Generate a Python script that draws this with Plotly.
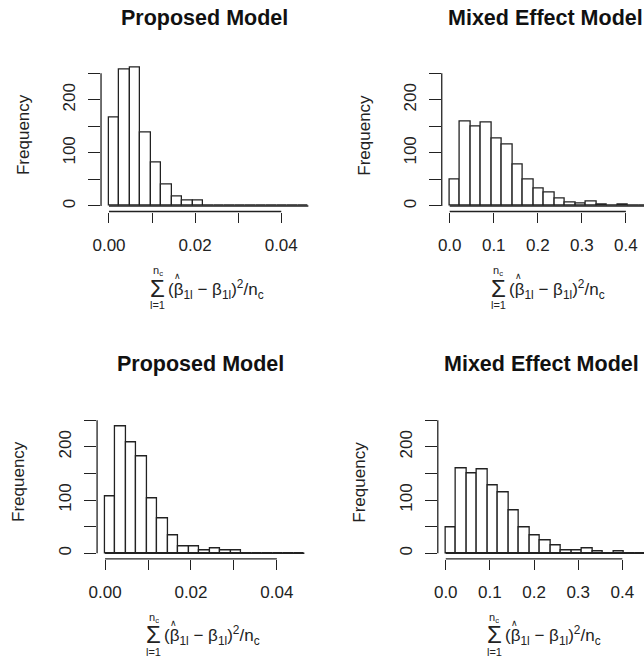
import plotly.graph_objects as go
import numpy as np

# ---------------- data ----------------
titles = ["Proposed Model", "Mixed Effect Model", "Proposed Model", "Mixed Effect Model"]

counts_tl = [166, 258, 261, 139, 82, 41, 17, 11, 11, 0, 0, 0, 0, 0, 0, 0, 0, 0, 0]
counts_tr = [49, 160, 150, 158, 127, 115, 79, 49, 33, 25, 14, 6, 5, 9, 3, 0, 3, 0, 0]
counts_bl = [106, 239, 209, 182, 103, 66, 33, 12, 12, 6, 9, 6, 6, 0, 0, 0, 0, 0, 0]
counts_br = [49, 160, 150, 158, 128, 115, 80, 49, 33, 24, 14, 6, 6, 9, 3, 0, 3, 0, 0]

break_max = [0.0463, 0.452, 0.0464, 0.451]

# labelled (major) and unlabelled (minor) ticks
xtick_vals_small = [0.0, 0.02, 0.04]
xtick_text_small = ["0.00", "0.02", "0.04"]
xminor_small = [0.01, 0.03]
xtick_vals_large = [0.0, 0.1, 0.2, 0.3, 0.4]
xtick_text_large = ["0.0", "0.1", "0.2", "0.3", "0.4"]
xminor_large = []
ytick_vals = [0, 100, 200]
ytick_text = ["0", "100", "200"]
yminor = [50, 150, 250]
y_lim = [0, 260]

counts_all = [counts_tl, counts_tr, counts_bl, counts_br]
xticks = [(xtick_vals_small, xtick_text_small, xminor_small),
          (xtick_vals_large, xtick_text_large, xminor_large),
          (xtick_vals_small, xtick_text_small, xminor_small),
          (xtick_vals_large, xtick_text_large, xminor_large)]

# ---------------- layout (pixels) ----------------
W, H = 644, 661
FONT = "Liberation Sans, Arial, sans-serif"
INK = "#222"
panel_px = [
    dict(left=94.2, scale=4360, top=62.5, bottom=211.5),
    dict(left=439.2, scale=446, top=62.5, bottom=211.5),
    dict(left=90.2, scale=4350, top=409.4, bottom=558.8),
    dict(left=435.2, scale=447, top=409.4, bottom=558.8),
]

def px_x(p):
    return p / W

def px_y(p):
    return 1 - p / H

fig = go.Figure()
annotations = []
shapes = []
layout_axes = {}

for i in range(4):
    counts = counts_all[i]
    bmax = break_max[i]
    nb = len(counts)
    edges = np.linspace(0, bmax, nb + 1)
    centers = (edges[:-1] + edges[1:]) / 2
    width = edges[1] - edges[0]
    pp = panel_px[i]
    x0 = -0.04 * bmax
    full_right = pp["left"] + 1.08 * bmax * pp["scale"]
    right_px = min(full_right, W)
    x1 = x0 + (right_px - pp["left"]) / pp["scale"]
    xa = "x" if i == 0 else f"x{i+1}"
    ya = "y" if i == 0 else f"y{i+1}"
    xname = "xaxis" if i == 0 else f"xaxis{i+1}"
    yname = "yaxis" if i == 0 else f"yaxis{i+1}"

    fig.add_trace(go.Bar(x=centers, y=counts, width=[width] * nb,
                         marker=dict(color="white", line=dict(color=INK, width=1.3)),
                         xaxis=xa, yaxis=ya, showlegend=False, hoverinfo="skip"))
    fig.add_trace(go.Scatter(x=[edges[0], edges[-1]], y=[0, 0], mode="lines",
                             line=dict(color=INK, width=1.3),
                             xaxis=xa, yaxis=ya, showlegend=False, hoverinfo="skip"))

    yr0 = y_lim[0] - 0.04 * (y_lim[1] - y_lim[0])
    yr1 = y_lim[1] + 0.04 * (y_lim[1] - y_lim[0])
    tv, tt, tm = xticks[i]
    xminor = dict(tickvals=tm, ticks="outside", ticklen=10, tickwidth=1.3, tickcolor=INK,
                  showgrid=False) if tm else None
    xa_dict = dict(domain=[px_x(pp["left"]), px_x(right_px)], range=[x0, x1],
                   anchor=ya, showgrid=False, zeroline=False, showline=False,
                   ticks="outside", ticklen=10, tickwidth=1.3, tickcolor=INK,
                   tickvals=tv, ticktext=tt, tickangle=0,
                   tickfont=dict(family=FONT, size=17, color=INK),
                   ticklabelstandoff=8)
    if xminor:
        xa_dict["minor"] = xminor
    layout_axes[xname] = xa_dict
    layout_axes[yname] = dict(domain=[px_y(pp["bottom"]), px_y(pp["top"])], range=[yr0, yr1],
                              anchor=xa, showgrid=False, zeroline=False, showline=False,
                              ticks="outside", ticklen=12, tickwidth=1.3, tickcolor=INK,
                              tickvals=ytick_vals, ticktext=ytick_text, tickangle=-90,
                              tickfont=dict(family=FONT, size=17, color=INK),
                              ticklabelstandoff=6,
                              minor=dict(tickvals=yminor, ticks="outside", ticklen=12,
                                         tickwidth=1.3, tickcolor=INK, showgrid=False))

    all_x = sorted(list(tv) + list(tm))
    all_y = sorted(list(ytick_vals) + list(yminor))
    # R-style axis lines spanning first to last tick
    shapes.append(dict(type="line", xref=xa, yref=f"{ya} domain", x0=all_x[0], x1=all_x[-1],
                       y0=0, y1=0, line=dict(color=INK, width=1.3)))
    shapes.append(dict(type="line", xref=f"{xa} domain", yref=ya, x0=0, x1=0,
                       y0=all_y[0], y1=all_y[-1], line=dict(color=INK, width=1.3)))

    cx = (pp["left"] + full_right) / 2
    dy = pp["top"] - 62.5
    # title
    annotations.append(dict(text=f"<b>{titles[i]}</b>", xref="paper", yref="paper",
                            x=px_x(cx - 4), y=px_y(17.5 + dy), showarrow=False,
                            xanchor="center", yanchor="middle",
                            font=dict(family=FONT, size=21.5, color="#111")))
    # y axis title
    annotations.append(dict(text="Frequency", xref="paper", yref="paper",
                            x=px_x(pp["left"] - 79), y=px_y(135 + dy), showarrow=False,
                            textangle=-90, xanchor="center", yanchor="middle",
                            font=dict(family=FONT, size=17, color=INK)))
    # x axis title (plotmath-like expression)
    sx = cx - 51.5
    annotations.append(dict(text="Σ", xref="paper", yref="paper",
                            x=px_x(sx), y=px_y(288 + dy), showarrow=False,
                            xanchor="center", yanchor="middle",
                            font=dict(family=FONT, size=24, color=INK)))
    annotations.append(dict(text="n<sub>c</sub>", xref="paper", yref="paper",
                            x=px_x(sx), y=px_y(271 + dy), showarrow=False,
                            xanchor="center", yanchor="middle",
                            font=dict(family=FONT, size=11, color=INK)))
    annotations.append(dict(text="l=1", xref="paper", yref="paper",
                            x=px_x(sx), y=px_y(305 + dy), showarrow=False,
                            xanchor="center", yanchor="middle",
                            font=dict(family=FONT, size=11, color=INK)))
    annotations.append(dict(text="(β<sub>1l</sub> − β<sub>1l</sub>)<sup>2</sup>/n<sub>c</sub>",
                            xref="paper", yref="paper",
                            x=px_x(cx - 43), y=px_y(289 + dy), showarrow=False,
                            xanchor="left", yanchor="middle",
                            font=dict(family=FONT, size=17, color=INK)))
    annotations.append(dict(text="∧", xref="paper", yref="paper",
                            x=px_x(cx - 31.5), y=px_y(276 + dy), showarrow=False,
                            xanchor="center", yanchor="middle",
                            font=dict(family=FONT, size=9, color=INK)))

fig.update_layout(width=W, height=H, margin=dict(l=0, r=0, t=0, b=0),
                  paper_bgcolor="white", plot_bgcolor="white",
                  bargap=0, annotations=annotations, shapes=shapes, **layout_axes)

fig.write_html("out.html")
